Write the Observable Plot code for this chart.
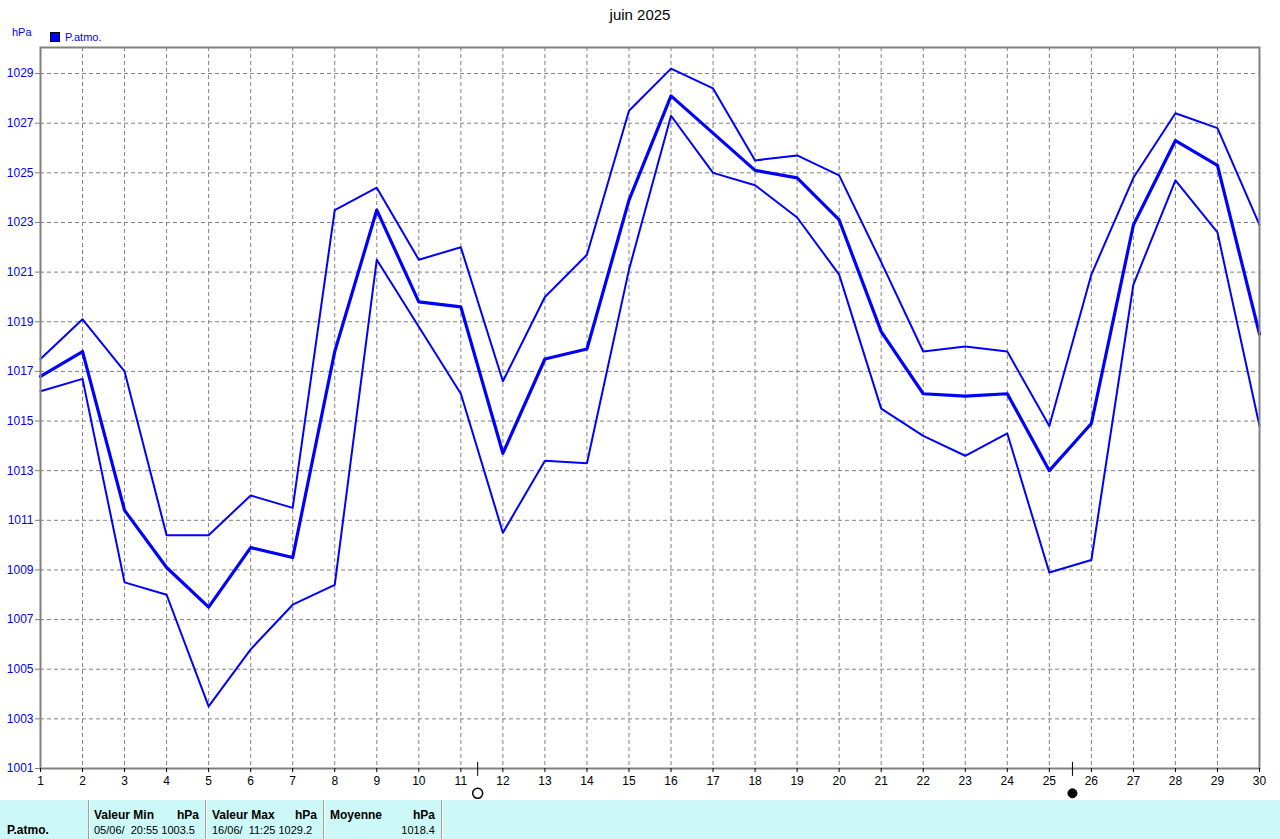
<!DOCTYPE html>
<html><head><meta charset="utf-8">
<script src="https://cdn.jsdelivr.net/npm/d3@7"></script>
<script src="https://cdn.jsdelivr.net/npm/@observablehq/plot@0.6"></script>
<style>
body{margin:0;background:#fff;font-family:"Liberation Sans",Arial,sans-serif;}
#wrap{position:relative;width:1280px;height:839px;overflow:hidden;background:#fff}
#chart{position:absolute;left:0;top:0}
#title{position:absolute;top:6px;left:0;width:1280px;text-align:center;font-size:15px;color:#000}
#unit{position:absolute;left:12px;top:26px;font-size:11px;color:#0000ff}
#leg{position:absolute;left:50px;top:31px;font-size:11px;color:#0000ff;display:flex;align-items:center}
#leg span.sw{display:inline-block;width:8px;height:8px;background:#0000ff;border:1px solid #000;margin-right:5px}
#table{position:absolute;left:0;top:800px;width:1280px;height:39px;background:#ccf8f8;font-size:11px;color:#000}
.cell{position:absolute;top:0;height:39px;border-right:1px solid #a0a0a0;box-shadow:1px 0 0 #fff}
.h{position:absolute;top:8px;font-weight:bold;font-size:12px}
.v{position:absolute;top:24px}
</style>
</head><body>
<div id="wrap">
  <div id="chart"></div>
  <div id="title">juin 2025</div>
  <div id="unit">hPa</div>
  <div id="leg"><span class="sw"></span>P.atmo.</div>
  <div id="table">
    <div class="cell" style="left:0;width:88px"><span class="h" style="left:7px;top:23px">P.atmo.</span></div>
    <div class="cell" style="left:89px;width:116px"><span class="h" style="left:5px">Valeur Min</span><span class="h" style="right:6px">hPa</span><span class="v" style="left:5px;white-space:pre">05/06/  20:55 1003.5</span></div>
    <div class="cell" style="left:206px;width:117px"><span class="h" style="left:6px">Valeur Max</span><span class="h" style="right:6px">hPa</span><span class="v" style="left:6px;white-space:pre">16/06/  11:25 1029.2</span></div>
    <div class="cell" style="left:324px;width:117px"><span class="h" style="left:6px">Moyenne</span><span class="h" style="right:6px">hPa</span><span class="v" style="right:6px">1018.4</span></div>
  </div>
</div>
<script>
const days = [1,2,3,4,5,6,7,8,9,10,11,12,13,14,15,16,17,18,19,20,21,22,23,24,25,26,27,28,29,30];
const pMax = [1017.5,1019.1,1017.0,1010.4,1010.4,1012.0,1011.5,1023.5,1024.4,1021.5,1022.0,1016.6,1020.0,1021.7,1027.5,1029.2,1028.4,1025.5,1025.7,1024.9,1021.4,1017.8,1018.0,1017.8,1014.8,1020.9,1024.8,1027.4,1026.8,1022.9];
const pMean = [1016.8,1017.8,1011.4,1009.1,1007.5,1009.9,1009.5,1017.8,1023.5,1019.8,1019.6,1013.7,1017.5,1017.9,1023.9,1028.1,1026.6,1025.1,1024.8,1023.1,1018.6,1016.1,1016.0,1016.1,1013.0,1014.9,1022.9,1026.3,1025.3,1018.5];
const pMin = [1016.2,1016.7,1008.5,1008.0,1003.5,1005.8,1007.6,1008.4,1021.5,1018.8,1016.1,1010.5,1013.4,1013.3,1021.1,1027.3,1025.0,1024.5,1023.2,1020.9,1015.5,1014.4,1013.6,1014.5,1008.9,1009.4,1020.5,1024.7,1022.6,1014.8];
const yTicks = [1001,1003,1005,1007,1009,1011,1013,1015,1017,1019,1021,1023,1025,1027,1029];
const yDomain = [1001, 1030.05];
const moons = [{day: 11.4, phase: "full"}, {day: 25.55, phase: "new"}];

const rows = days.map((d, i) => ({day: d, max: pMax[i], mean: pMean[i], min: pMin[i]}));
const blue = "#0000ff";
const grey = "#808080";

const chart = Plot.plot({
  width: 1280,
  height: 800,
  marginLeft: 40,
  marginRight: 21,
  marginTop: 47,
  marginBottom: 32,
  style: {fontFamily: "'Liberation Sans', Arial, sans-serif", fontSize: "12px", background: "transparent"},
  x: {domain: [1, 30], type: "linear"},
  y: {domain: yDomain, type: "linear"},
  marks: [
    Plot.ruleY(yTicks.slice(1), {stroke: grey, strokeDasharray: "4,3", strokeWidth: 1, strokeOpacity: 1}),
    Plot.ruleX(days.slice(1, -1), {stroke: grey, strokeDasharray: "4,3", strokeWidth: 1, strokeOpacity: 1}),
    Plot.line(rows, {x: "day", y: "max", stroke: blue, strokeWidth: 2}),
    Plot.line(rows, {x: "day", y: "min", stroke: blue, strokeWidth: 2}),
    Plot.line(rows, {x: "day", y: "mean", stroke: blue, strokeWidth: 3.2}),
    Plot.frame({stroke: grey, strokeWidth: 2}),
    Plot.axisY(yTicks, {tickSize: 5, tickPadding: 2, tickFormat: d => String(d), fill: blue, stroke: grey, label: null, fontSize: 12}),
    Plot.axisX(days, {tickSize: 4, tickPadding: 4, tickFormat: d => String(d), fill: "black", stroke: "black", label: null, fontSize: 12}),
    Plot.ruleX(moons, {x: "day", y1: 1001.25, y2: 1000.68, stroke: "black", strokeWidth: 1}),
    Plot.dot(moons.filter(d => d.phase === "full"), {x: "day", y: () => 1000, r: 5, stroke: "black", strokeWidth: 1.5, fill: "white"}),
    Plot.dot(moons.filter(d => d.phase === "new"), {x: "day", y: () => 1000, r: 4.5, stroke: "black", strokeWidth: 1, fill: "black"})
  ]
});
document.getElementById("chart").appendChild(chart);
</script>
</body></html>
